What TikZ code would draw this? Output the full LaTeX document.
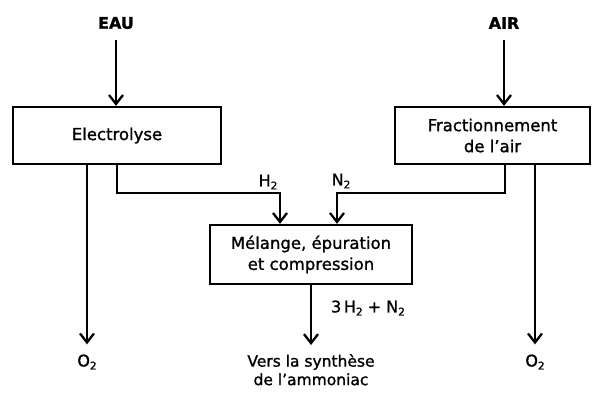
\documentclass[tikz,border=0pt]{standalone}
\usepackage{fontspec}
\setmainfont{DejaVu Sans}[FakeBold=1.2]
\newfontfamily\labelfont{DejaVu Sans}[FakeBold=1.2]
\usetikzlibrary{arrows.meta}
% small lowered index for chemical formulas
\newcommand\idx[1]{\raisebox{-0.35ex}{\fontsize{10.5}{10.5}\selectfont #1}}
\begin{document}
\begin{tikzpicture}[x=1pt,y=-1pt,
  flow/.style={line width=2.3pt},
  arr/.style={flow,-{Straight Barb[length=9pt,width=14pt,line width=2.3pt]}},
  procbox/.style={draw,line width=2.3pt,align=center,font=\fontsize{16.5}{21}\selectfont,inner sep=0pt},
  feed/.style={font=\fontsize{16}{19}\selectfont\bfseries,inner sep=0pt},
  lbl/.style={font=\fontsize{16}{19}\selectfont,inner sep=0pt,align=center}]
\useasboundingbox (0,0) rectangle (593,392);

% process blocks
\node[procbox,minimum width=208pt,minimum height=57pt] (elec) at (117,135.5) {Electrolyse};
\node[procbox,minimum width=195pt,minimum height=57pt] (frac) at (492.5,135.5) {Fractionnement\\de l’air};
\node[procbox,minimum width=202pt,minimum height=59pt] (mel) at (311,254.5) {Mélange, épuration\\et compression};

% inputs
\node[feed] (eau) at (116,23) {EAU};
\node[feed] (air) at (504,23) {AIR};

% outputs
\node[lbl] (o2l) at (87,362) {O\idx{2}};
\node[lbl] (o2r) at (535,362) {O\idx{2}};
\node[lbl,font=\fontsize{15.5}{18.5}\selectfont,anchor=north] (vers) at (311,354) {Vers la synthèse\\de l’ammoniac};

% stream labels
\node[lbl] (h2) at (268,182) {H\idx{2}};
\node[lbl] (n2) at (341,181) {N\idx{2}};
\node[lbl] (mix) at (368,308) {3\,H\idx{2} + N\idx{2}};

% routing points
\coordinate (hj) at (280,193);
\coordinate (nj) at (337,193);
\coordinate (fn) at (505,164);
\coordinate (fo) at (535,164);
\coordinate (eo) at (87,164);

% feeds
\draw[arr,shorten <=11pt] (eau.south) -- (eau.south |- elec.north);
\draw[arr,shorten <=11pt] (air.south) -- (air.south |- frac.north);

% oxygen vents
\draw[arr,shorten >=10pt] (eo) -- (o2l.north);
\draw[arr,shorten >=10pt] (fo) -- (o2r.north);

% hydrogen and nitrogen to the mixer
\draw[arr] (elec.south) |- (hj) -- (hj |- mel.north);
\draw[arr] (fn) |- (nj) -- (nj |- mel.north);

% synthesis gas
\draw[arr,shorten >=9pt] (mel.south) -- (vers.north);
\end{tikzpicture}
\end{document}
